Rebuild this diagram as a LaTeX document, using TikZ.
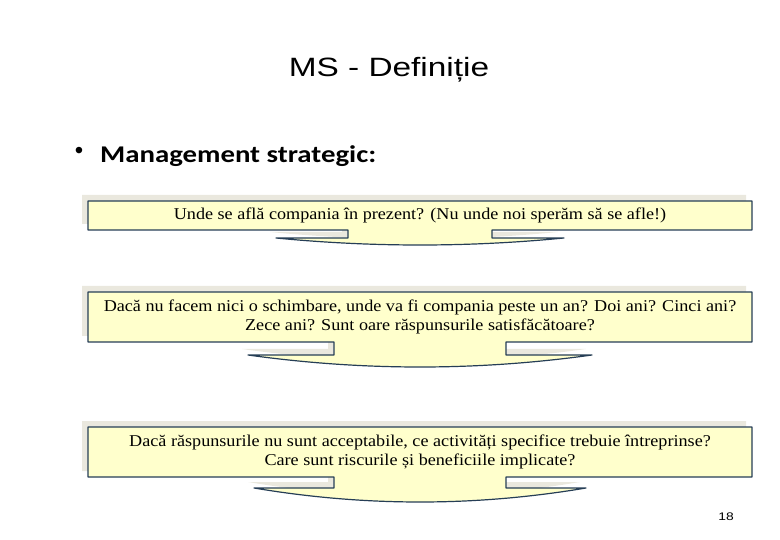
\documentclass[tikz,border=0pt]{standalone}
\usepackage{fontspec}
\setmainfont{Liberation Sans}
\newfontfamily\titlefont[FakeStretch=1.26]{Liberation Sans}
\newfontfamily\pointfont[FakeStretch=1.2]{Carlito}
\newfontfamily\boxfont[FakeStretch=1.1]{Liberation Serif}
\usetikzlibrary{positioning, calc, backgrounds}
\definecolor{boxfill}{RGB}{255,255,204}
\definecolor{boxline}{RGB}{38,62,86}
\definecolor{shadegrey}{RGB}{234,232,222}

\tikzset{
  qbox/.style={minimum width=664pt, outer sep=0pt, inner sep=0pt, align=center,
    font=\boxfont\fontsize{16.5}{19}\selectfont},
  arrowline/.style={draw=boxline, fill=boxfill, line width=1.2pt, line join=round},
  % box with its down arrow, around node #1
  calloutpath/.style={insert path={
    (#1.south west) -- (#1.north west) -- (#1.north east) -- (#1.south east)
    -- ($(#1.south)+(\sw,0)$) -- ($(#1.south)+(\sw,\sl)$) -- ($(#1.south)+(\ww,\sl)$)
    .. controls ($(#1.south)+(2*\ww/3,\sl/3+2*\td/3)$) and ($(#1.south)+(\ww/3,\td)$) .. ($(#1.south)+(0,\td)$)
    .. controls ($(#1.south)+(-\ww/3,\td)$) and ($(#1.south)+(-2*\ww/3,\sl/3+2*\td/3)$) .. ($(#1.south)+(-\ww,\sl)$)
    -- ($(#1.south)+(-\sw,\sl)$) -- ($(#1.south)+(-\sw,0)$) -- cycle}},
}

\begin{document}
\begin{tikzpicture}[x=1pt, y=-1pt]
  \useasboundingbox (0,0) rectangle (780,540);
  \node[anchor=base, font=\titlefont\fontsize{26.5}{30}\selectfont] (title) at (389,77) {MS - Definiție};
  \node[font=\fontsize{24}{28}\selectfont] (dot) at (79,153) {•};
  \node[anchor=base west, inner sep=0pt, font=\pointfont\bfseries\fontsize{24}{28}\selectfont] (point) at (100,163) {Management strategic:};

  % the three questions, each with its arrow below
  \foreach \cy/\h/\sw/\sl/\ww/\td/\txt [count=\i] in {
    215.5/29/72/8/144/15/{Unde se află compania în prezent? (Nu unde noi sperăm să se afle!)},
    317/50/86/13/172/25/{Dacă nu facem nici o schimbare, unde va fi compania peste un an? Doi ani? Cinci ani?\\Zece ani? Sunt oare răspunsurile satisfăcătoare?},
    452/50/86/11/166/25/{Dacă răspunsurile nu sunt acceptabile, ce activități specifice trebuie întreprinse?\\Care sunt riscurile și beneficiile implicate?}}{
    \node[qbox, minimum height=\h pt] (box\i) at (420,\cy) {\txt};
    \begin{scope}[on background layer]
      \fill[shadegrey, transform canvas={xshift=-6pt, yshift=6pt}, calloutpath=box\i];
      \path[arrowline, calloutpath=box\i];
    \end{scope}
  }

  \node[anchor=base, font=\titlefont\fontsize{11}{13}\selectfont] (page) at (726,520) {18};
\end{tikzpicture}
\end{document}
